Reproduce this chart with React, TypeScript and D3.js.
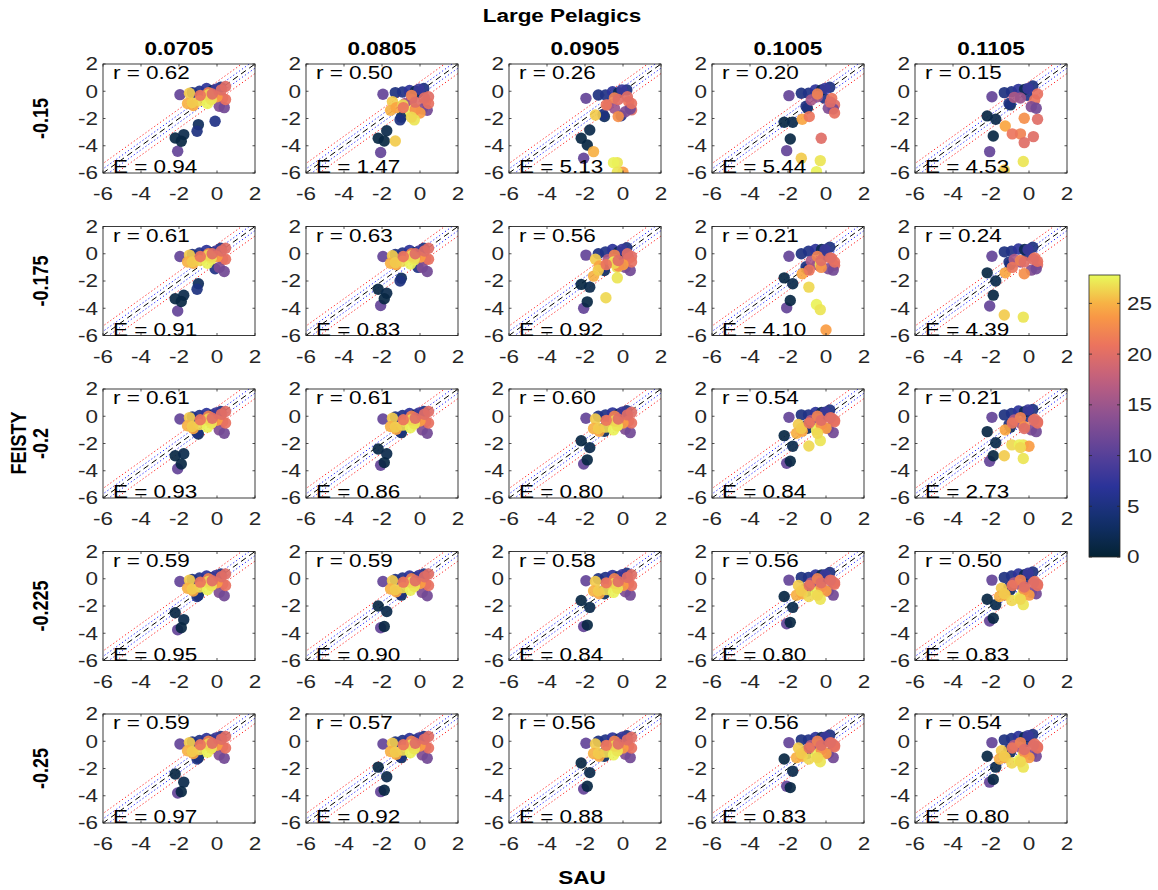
import React from 'react';
import * as d3 from 'd3';

// Grid of FEISTY vs SAU scatter panels (log10 catch), coloured by a per-LME value.
const FONT = '"Liberation Sans", Arial, Helvetica, sans-serif';
const SX = 1.25; // glyphs are drawn slightly wide

const colLabels = ['0.0705', '0.0805', '0.0905', '0.1005', '0.1105'];
const rowLabels = ['-0.15', '-0.175', '-0.2', '-0.225', '-0.25'];

const rValues = [
  [0.62, 0.5, 0.26, 0.2, 0.15],
  [0.61, 0.63, 0.56, 0.21, 0.24],
  [0.61, 0.61, 0.6, 0.54, 0.21],
  [0.59, 0.59, 0.58, 0.56, 0.5],
  [0.59, 0.57, 0.56, 0.56, 0.54],
];
const eValues = [
  [0.94, 1.47, 5.13, 5.44, 4.53],
  [0.91, 0.83, 0.92, 4.1, 4.39],
  [0.93, 0.86, 0.8, 0.84, 2.73],
  [0.95, 0.9, 0.84, 0.8, 0.83],
  [0.97, 0.92, 0.88, 0.83, 0.8],
];

const axisTicks = [-6, -4, -2, 0, 2];
const colourTicks = [0, 5, 10, 15, 20, 25];
const colourMax = 27.8;

// SAU value (x) of each LME, shared by every panel
const sauX = [-1.95, -2.07, -2.2, -1.75, -1.88, -0.98, -1.05, -0.1, -1.3, -0.92, -0.55, -0.23,
  0.2, -0.05, -0.78, -0.45, 0.3, 0.45, -0.45, 0.12, 0.38, 0.45, -1.45, -1.55, -1.25, -0.9,
  -0.3, 0.0, -0.5, -0.25, -1.3, -0.3, -0.45, -0.25, -0.88, 0.23];

// colour value of each LME
const colourVal = [11, 11, 1, 1.5, 1, 2.5, 5, 5.5, 5, 5.5, 7, 2, 5, 8, 16, 15, 21, 20, 22, 13,
  12, 20.5, 26, 25, 24.5, 26.5, 27, 24, 27.5, 23, 26, 27, 26.5, 20, 21, 20];

// FEISTY value (y) of each LME, per panel [row][col]
const feistyY = [
  [
    [-0.25, -4.4, -3.43, -3.18, -3.67, -2.45, -2.94, -2.2, -0.1, 0.0, 0.2, 0.05, 0.3, 0.15, -0.4, -0.2, -0.5, 0.35, -0.1, -1.1, -1.2, -0.6, -0.15, -0.9, -1.05, -0.7, -0.55, -0.4, -0.9, -0.3, -0.85, -0.6, -0.25, -0.2, -0.3, 0.1],
    [-0.22, -4.5, -3.45, -2.9, -3.65, -1.9, -2.1, -0.1, -0.1, -0.05, 0.05, 0.0, 0.2, 0.15, -0.9, -0.6, -0.76, -0.4, -0.3, -1.3, -1.4, -0.9, -0.76, -1.4, -1.2, -1.0, -1.3, -1.6, -1.5, -1.35, -3.65, -2.1, -1.9, -0.8, -1.2, -0.5],
    [-0.52, -4.92, -3.45, -2.84, -3.94, -1.86, -1.7, -1.8, -0.27, -0.27, -0.03, -0.1, 0.1, 0.1, -1.0, -1.25, -0.76, -1.37, -0.5, -1.5, -1.3, -0.9, -1.74, -4.43, -9, -9, -5.24, -5.95, -5.24, -1.86, -9, -5.95, -9, -0.6, -1.0, -0.4],
    [-0.32, -4.36, -2.28, -2.28, -3.5, -1.25, -1.1, -0.5, -0.15, -0.15, 0.1, 0.1, 0.29, 0.2, -0.64, -0.4, -0.52, -1.0, -0.2, -1.25, -1.3, -1.6, -9, -9, -2.06, -9, -5.09, -9, -5.9, -9, -4.92, -9, -9, -3.45, -1.86, -0.8],
    [-0.4, -4.43, -1.81, -2.06, -3.28, -1.0, -0.9, -0.3, -0.1, -0.03, 0.14, 0.14, 0.38, 0.21, -0.45, -0.5, -0.64, -2.06, -3.13, -1.13, -1.25, -0.2, -9, -9, -2.55, -9, -5.16, -9, -9, -1.98, -5.78, -9, -9, -3.77, -3.13, -3.33],
  ],
  [
    [-0.2, -4.2, -3.3, -3.05, -3.5, -2.2, -2.6, -1.1, -0.05, 0.05, 0.25, 0.1, 0.4, 0.2, -0.3, -0.1, -0.4, 0.4, 0.0, -1.0, -1.3, -0.4, -0.1, -0.6, -0.7, -0.5, -0.4, -0.2, -0.7, -0.2, -0.6, -0.3, -0.1, 0.0, -0.2, 0.2],
    [-0.2, -3.8, -2.6, -2.9, -3.3, -1.8, -2.0, -1.0, -0.05, 0.05, 0.25, 0.1, 0.4, 0.2, -0.3, -0.1, -0.4, 0.4, 0.0, -1.0, -1.3, -0.4, -0.15, -0.7, -0.8, -0.55, -0.45, -0.25, -0.75, -0.25, -0.65, -0.35, -0.15, 0.0, -0.2, 0.2],
    [-0.1, -4.0, -2.25, -2.45, -3.53, -1.23, -1.0, -0.3, 0.0, 0.14, 0.31, 0.14, 0.44, 0.31, -0.42, -0.42, -0.35, -0.2, -0.1, -1.0, -1.23, -0.6, -0.4, -1.64, -0.9, -3.23, -1.0, -0.8, -0.6, -0.9, -1.2, -1.77, -0.7, -0.5, -0.8, 0.0],
    [-0.18, -3.97, -1.77, -2.2, -3.43, -1.15, -0.95, -0.2, 0.0, 0.19, 0.31, 0.31, 0.48, 0.3, -0.54, -0.8, -0.35, -0.84, -0.2, -1.1, -1.2, -0.6, -9, -9, -1.47, -2.45, -0.79, -5.6, -3.72, -1.0, -9, -4.1, -9, -0.5, -1.2, -0.3],
    [-0.18, -3.84, -1.4, -2.0, -3.04, -0.79, -0.6, -0.1, 0.14, 0.19, 0.35, 0.31, 0.48, 0.3, -0.42, -0.6, -0.3, -0.8, -0.5, -1.2, -1.1, -0.55, -9, -9, -1.4, -9, -4.65, -9, -9, -1.47, -4.5, -9, -9, -0.6, -1.0, -0.4],
  ],
  [
    [-0.2, -3.85, -2.9, -2.75, -3.5, -1.3, -1.2, -0.3, -0.05, 0.05, 0.2, 0.1, 0.35, 0.25, -0.35, -0.15, -0.4, 0.35, 0.0, -1.0, -1.25, -0.5, -0.1, -0.7, -0.9, -0.6, -0.5, -0.3, -0.8, -0.25, -0.75, -0.5, -0.2, -0.15, -0.25, 0.15],
    [-0.2, -3.6, -2.4, -2.75, -3.4, -1.2, -1.1, -0.2, -0.05, 0.05, 0.2, 0.1, 0.35, 0.25, -0.35, -0.15, -0.4, 0.35, 0.0, -1.0, -1.25, -0.5, -0.15, -0.75, -0.95, -0.65, -0.55, -0.35, -0.85, -0.3, -0.8, -0.55, -0.25, -0.15, -0.25, 0.15],
    [-0.15, -3.5, -1.8, -2.3, -3.2, -1.1, -0.9, -0.1, 0.0, 0.1, 0.25, 0.15, 0.4, 0.3, -0.35, -0.2, -0.35, 0.3, 0.0, -0.95, -1.2, -0.5, -0.2, -0.9, -1.1, -0.8, -0.7, -0.5, -1.0, -0.4, -0.9, -0.7, -0.35, -0.2, -0.3, 0.1],
    [-0.08, -3.45, -1.42, -2.2, -3.3, -0.88, -0.7, 0.0, 0.1, 0.1, 0.27, 0.27, 0.46, 0.3, -0.3, -0.2, -0.14, -0.3, 0.0, -0.9, -1.2, -0.4, -0.6, -1.25, -1.1, -2.18, -0.71, -0.88, -1.0, -0.6, -0.9, -1.79, -1.25, -0.3, -0.5, -0.1],
    [-0.08, -3.3, -1.13, -1.94, -2.9, -0.81, -0.6, 0.0, 0.1, 0.2, 0.39, 0.34, 0.5, 0.46, -0.27, -0.5, -0.22, -0.4, -0.1, -1.0, -1.13, -0.5, -9, -9, -1.0, -2.1, -2.1, -2.2, -2.1, -0.76, -2.9, -3.1, -2.3, -0.9, -0.5, -0.3],
  ],
  [
    [-0.2, -3.75, -2.5, -3.0, -3.6, -1.2, -1.3, -0.2, -0.05, 0.05, 0.2, 0.1, 0.35, 0.25, -0.35, -0.15, -0.4, 0.35, 0.0, -1.0, -1.25, -0.5, -0.1, -0.7, -0.9, -0.6, -0.5, -0.3, -0.8, -0.25, -0.75, -0.5, -0.2, -0.15, -0.25, 0.15],
    [-0.2, -3.6, -2.0, -2.4, -3.5, -1.2, -1.1, -0.2, -0.05, 0.05, 0.2, 0.1, 0.35, 0.25, -0.35, -0.15, -0.4, 0.35, 0.0, -1.0, -1.25, -0.5, -0.15, -0.75, -0.95, -0.65, -0.55, -0.35, -0.85, -0.3, -0.8, -0.55, -0.25, -0.15, -0.25, 0.15],
    [-0.15, -3.5, -1.6, -2.1, -3.4, -1.1, -0.9, -0.1, 0.0, 0.1, 0.25, 0.15, 0.4, 0.3, -0.35, -0.2, -0.35, 0.3, 0.0, -0.95, -1.2, -0.5, -0.2, -0.9, -1.1, -0.8, -0.7, -0.5, -1.0, -0.4, -0.9, -0.7, -0.35, -0.2, -0.3, 0.1],
    [-0.1, -3.3, -1.3, -2.1, -3.2, -0.9, -0.7, 0.0, 0.1, 0.1, 0.27, 0.27, 0.46, 0.3, -0.3, -0.2, -0.15, -0.3, 0.0, -0.9, -1.2, -0.4, -0.5, -1.2, -1.1, -1.3, -0.8, -0.9, -1.0, -0.6, -0.9, -1.5, -1.2, -0.3, -0.5, -0.1],
    [-0.1, -3.1, -1.5, -1.9, -2.9, -0.8, -0.6, 0.0, 0.1, 0.2, 0.35, 0.3, 0.5, 0.4, -0.3, -0.45, -0.2, -0.4, -0.1, -1.0, -1.1, -0.5, -0.7, -1.3, -1.2, -1.6, -1.0, -1.2, -1.4, -0.8, -1.1, -1.9, -1.5, -0.6, -0.5, -0.3],
  ],
  [
    [-0.2, -3.8, -2.4, -3.0, -3.7, -1.2, -1.3, -0.2, -0.05, 0.05, 0.2, 0.1, 0.35, 0.25, -0.35, -0.15, -0.4, 0.35, 0.0, -1.0, -1.25, -0.5, -0.1, -0.7, -0.9, -0.6, -0.5, -0.3, -0.8, -0.25, -0.75, -0.5, -0.2, -0.15, -0.25, 0.15],
    [-0.2, -3.7, -1.9, -2.6, -3.6, -1.2, -1.1, -0.2, -0.05, 0.05, 0.2, 0.1, 0.35, 0.25, -0.35, -0.15, -0.4, 0.35, 0.0, -1.0, -1.25, -0.5, -0.15, -0.75, -0.95, -0.65, -0.55, -0.35, -0.85, -0.3, -0.8, -0.55, -0.25, -0.15, -0.25, 0.15],
    [-0.15, -3.5, -1.6, -2.3, -3.3, -1.1, -0.9, -0.1, 0.0, 0.1, 0.25, 0.15, 0.4, 0.3, -0.35, -0.2, -0.35, 0.3, 0.0, -0.95, -1.2, -0.5, -0.2, -0.9, -1.1, -0.8, -0.7, -0.5, -1.0, -0.4, -0.9, -0.7, -0.35, -0.2, -0.3, 0.1],
    [-0.1, -3.3, -1.3, -2.2, -3.4, -0.9, -0.7, 0.0, 0.1, 0.1, 0.27, 0.27, 0.46, 0.3, -0.3, -0.2, -0.15, -0.3, 0.0, -0.9, -1.2, -0.4, -0.5, -1.2, -1.1, -1.3, -0.8, -0.9, -1.0, -0.6, -0.9, -1.5, -1.2, -0.3, -0.5, -0.1],
    [-0.1, -3.0, -1.1, -1.9, -2.8, -0.8, -0.6, 0.0, 0.1, 0.2, 0.35, 0.3, 0.5, 0.4, -0.3, -0.45, -0.2, -0.4, -0.1, -1.0, -1.1, -0.5, -0.7, -1.3, -1.2, -1.6, -1.0, -1.2, -1.4, -0.8, -1.1, -1.9, -1.5, -0.6, -0.5, -0.3],
  ],
];

// thermal-style colormap stops
const thermalStops = [0, 0.125, 0.25, 0.375, 0.5, 0.625, 0.75, 0.875, 1];
const thermalColors = ['#042333', '#12306b', '#2b3399', '#5c4299', '#8c5191', '#bf5f80', '#eb735e', '#fba040', '#e8fa5b'];

const panelLeft0 = 103;
const panelTop0 = 64;
const colStep = 203;
const rowStep = 162.5;
const PW = 152;
const PH = 109;
const AXIS = '#262626';

function WideText(props: {
  x: number; y: number; children: React.ReactNode; anchor?: string; size?: number;
  bold?: boolean; rotate?: number; fill?: string;
}) {
  const { x, y, children, anchor = 'start', size = 18, bold = false, rotate = 0, fill = '#000' } = props;
  return (
    <text
      transform={`translate(${x},${y}) scale(${SX},1)${rotate ? ` rotate(${rotate})` : ''}`}
      textAnchor={anchor}
      fontFamily={FONT}
      fontSize={size}
      fontWeight={bold ? 'bold' : 'normal'}
      fill={fill}
    >
      {children}
    </text>
  );
}

export default function App() {
  const xs = d3.scaleLinear().domain([-6, 2]).range([0, PW]);
  const ys = d3.scaleLinear().domain([-6, 2]).range([PH, 0]);
  const colour = d3
    .scaleLinear<string>()
    .domain(thermalStops.map((s) => s * colourMax))
    .range(thermalColors)
    .interpolate(d3.interpolateRgb)
    .clamp(true);

  const refLine = d3
    .line<number>()
    .x((d) => xs(d))
    .y((d) => ys(d));
  const lineXs = [-9, 5];
  const offsets = [
    { d: 0, stroke: '#000', dash: '6,4' },
    { d: Math.log10(2), stroke: '#2020ff', dash: '1.2,2.4' },
    { d: -Math.log10(2), stroke: '#2020ff', dash: '1.2,2.4' },
    { d: Math.log10(5), stroke: '#ff2020', dash: '1.2,2.4' },
    { d: -Math.log10(5), stroke: '#ff2020', dash: '1.2,2.4' },
  ];

  // colorbar
  const cbX = 1089;
  const cbW = 31;
  const cbTop = 275;
  const cbBot = 557;
  const cbScale = d3.scaleLinear().domain([0, colourMax]).range([cbBot, cbTop]);
  const cbStops = d3.range(0, 1.0001, 0.05);

  const panels: React.ReactNode[] = [];
  for (let r = 0; r < 5; r++) {
    for (let c = 0; c < 5; c++) {
      const left = panelLeft0 + c * colStep;
      const top = panelTop0 + r * rowStep;
      const id = `clip-${r}-${c}`;
      const yv = feistyY[r][c];
      panels.push(
        <g key={id} transform={`translate(${left},${top})`}>
          <defs>
            <clipPath id={id}>
              <rect x={0} y={0} width={PW} height={PH} />
            </clipPath>
          </defs>
          <rect x={0} y={0} width={PW} height={PH} fill="#fff" />
          <g clipPath={`url(#${id})`}>
            {offsets.map((o, i) => (
              <path
                key={i}
                d={refLine.y((v) => ys(v + o.d))(lineXs) || ''}
                fill="none"
                stroke={o.stroke}
                strokeWidth={1}
                strokeDasharray={o.dash}
              />
            ))}
            {sauX.map((sx, i) => (
              <circle
                key={i}
                cx={xs(sx)}
                cy={ys(yv[i])}
                r={5.7}
                fill={colour(colourVal[i])}
                fillOpacity={0.92}
              />
            ))}
          </g>
          <rect x={0} y={0} width={PW} height={PH} fill="none" stroke={AXIS} strokeWidth={0.9} />
          {axisTicks.map((t) => (
            <g key={t}>
              <line x1={xs(t)} x2={xs(t)} y1={PH} y2={PH - 2.5} stroke={AXIS} strokeWidth={0.8} />
              <line x1={xs(t)} x2={xs(t)} y1={0} y2={2.5} stroke={AXIS} strokeWidth={0.8} />
              <line x1={0} x2={2.5} y1={ys(t)} y2={ys(t)} stroke={AXIS} strokeWidth={0.8} />
              <line x1={PW} x2={PW - 2.5} y1={ys(t)} y2={ys(t)} stroke={AXIS} strokeWidth={0.8} />
              <WideText x={xs(t)} y={PH + 27} anchor="middle" fill={AXIS}>{String(t)}</WideText>
              <WideText x={-5} y={ys(t) + 6.4} anchor="end" fill={AXIS}>{String(t)}</WideText>
            </g>
          ))}
          <WideText x={10} y={15}>{`r = ${rValues[r][c].toFixed(2)}`}</WideText>
          <WideText x={10} y={PH}>{`E = ${eValues[r][c].toFixed(2)}`}</WideText>
        </g>
      );
    }
  }

  return (
    <svg
      width={1158}
      height={890}
      style={{ position: 'absolute', left: 0, top: 0, background: '#fff' }}
    >
      <rect x={0} y={0} width={1158} height={890} fill="#fff" />
      {panels}
      <WideText x={562} y={22} anchor="middle" bold>Large Pelagics</WideText>
      {colLabels.map((l, c) => (
        <WideText key={l} x={panelLeft0 + c * colStep + PW / 2} y={55} anchor="middle" bold>{l}</WideText>
      ))}
      {rowLabels.map((l, r) => (
        <WideText key={l} x={48} y={panelTop0 + r * rowStep + PH / 2} anchor="middle" bold rotate={-90}>{l}</WideText>
      ))}
      <WideText x={26} y={443} anchor="middle" bold rotate={-90}>FEISTY</WideText>
      <WideText x={582} y={884} anchor="middle" bold>SAU</WideText>

      <defs>
        <linearGradient id="cbGrad" x1="0" y1="1" x2="0" y2="0">
          {cbStops.map((s) => (
            <stop key={s} offset={s} stopColor={colour(s * colourMax)} />
          ))}
        </linearGradient>
      </defs>
      <rect x={cbX} y={cbTop} width={cbW} height={cbBot - cbTop} fill="url(#cbGrad)" stroke={AXIS} strokeWidth={0.8} />
      {colourTicks.map((t) => (
        <g key={t}>
          <line x1={cbX + cbW} x2={cbX + cbW - 3} y1={cbScale(t)} y2={cbScale(t)} stroke={AXIS} strokeWidth={0.8} />
          <line x1={cbX} x2={cbX + 3} y1={cbScale(t)} y2={cbScale(t)} stroke={AXIS} strokeWidth={0.8} />
          <WideText x={cbX + cbW + 7} y={cbScale(t) + 6.4} fill={AXIS}>{String(t)}</WideText>
        </g>
      ))}
    </svg>
  );
}
